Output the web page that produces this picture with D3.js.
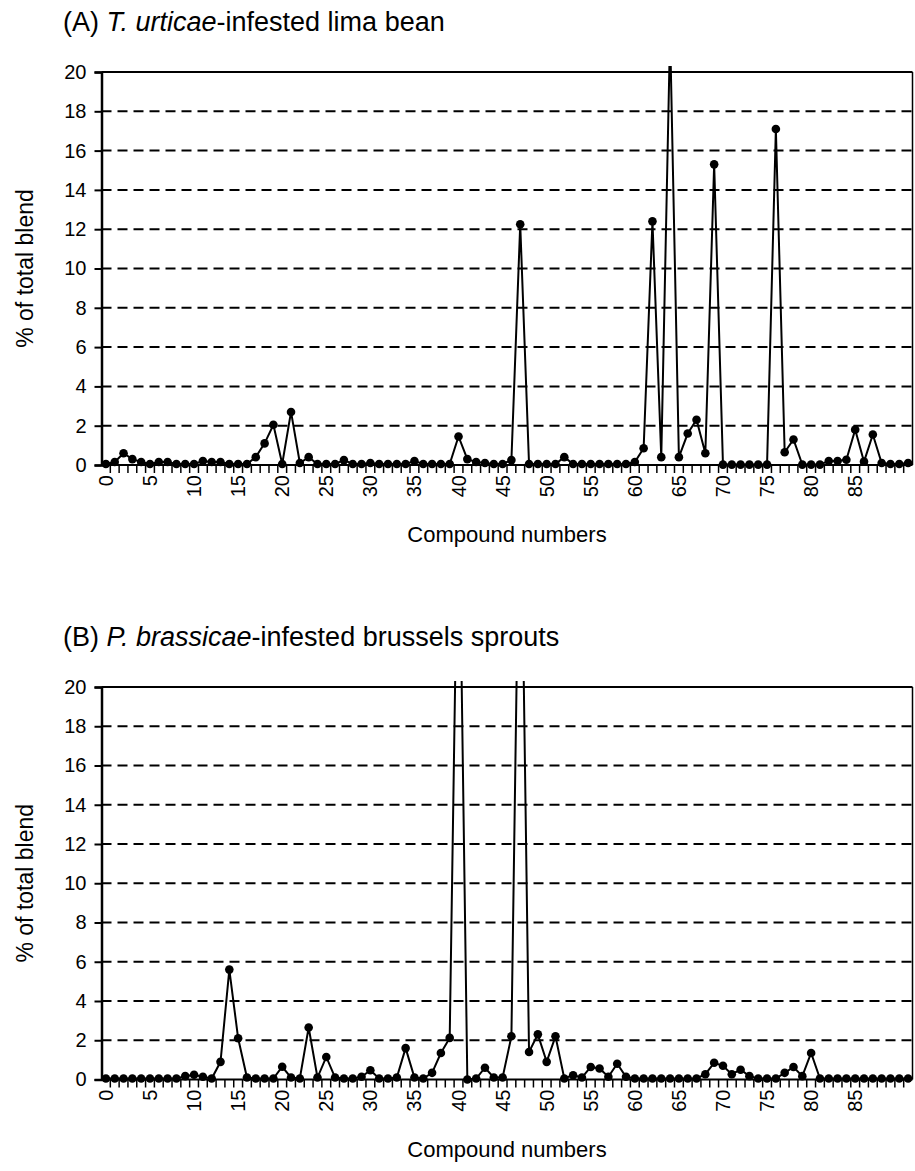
<!DOCTYPE html>
<html lang="en">
<head>
<meta charset="UTF-8">
<title>Volatile blends</title>
<script src="https://d3js.org/d3.v7.min.js"></script>
<style>
    body { margin: 0; padding: 0; background: #fff; }
    svg { display: block; }
    text { font-family: "Liberation Sans", Arial, sans-serif; fill: #000; }
</style>
</head>
<body>
<svg id="chart"></svg>
<script>
    // y axis ticks and x tick labels
    const yTicks = [0, 2, 4, 6, 8, 10, 12, 14, 16, 18, 20];
    const xTickLabels = [0, 5, 10, 15, 20, 25, 30, 35, 40, 45, 50, 55, 60, 65, 70, 75, 80, 85];

    // (A) T. urticae-infested lima bean, % of total blend per compound (0..91)
    const blendA = [
        0.05, 0.15, 0.6, 0.3, 0.15, 0.05, 0.15, 0.15, 0.05, 0.05,
        0.05, 0.2, 0.15, 0.15, 0.05, 0.05, 0.05, 0.4, 1.1, 2.05,
        0.05, 2.7, 0.1, 0.4, 0.05, 0.05, 0.05, 0.25, 0.05, 0.05,
        0.1, 0.05, 0.05, 0.05, 0.05, 0.2, 0.05, 0.05, 0.05, 0.05,
        1.45, 0.3, 0.15, 0.1, 0.05, 0.05, 0.25, 12.25, 0.05, 0.05,
        0.05, 0.05, 0.4, 0.05, 0.05, 0.05, 0.05, 0.05, 0.05, 0.05,
        0.15, 0.85, 12.4, 0.4, 22, 0.4, 1.6, 2.3, 0.6, 15.3,
        0.02, 0.02, 0.02, 0.02, 0.02, 0.02, 17.1, 0.65, 1.3, 0.02,
        0.02, 0.02, 0.2, 0.2, 0.27, 1.8, 0.17, 1.55, 0.1, 0.05,
        0.05, 0.1
    ];

    // (B) P. brassicae-infested brussels sprouts
    const blendB = [
        0.05, 0.05, 0.05, 0.05, 0.05, 0.05, 0.05, 0.05, 0.05, 0.17,
        0.24, 0.14, 0.05, 0.9, 5.6, 2.1, 0.1, 0.05, 0.05, 0.05,
        0.65, 0.1, 0.05, 2.65, 0.1, 1.15, 0.1, 0.05, 0.05, 0.14,
        0.47, 0.05, 0.05, 0.1, 1.6, 0.1, 0.05, 0.34, 1.35, 2.12,
        31.5, 0.0, 0.05, 0.6, 0.1, 0.1, 2.2, 33, 1.4, 2.3,
        0.9, 2.2, 0.05, 0.22, 0.1, 0.64, 0.56, 0.14, 0.8, 0.14,
        0.05, 0.05, 0.05, 0.05, 0.05, 0.05, 0.05, 0.05, 0.27, 0.85,
        0.7, 0.27, 0.5, 0.17, 0.05, 0.05, 0.05, 0.34, 0.64, 0.17,
        1.35, 0.05, 0.05, 0.05, 0.05, 0.05, 0.05, 0.05, 0.05, 0.05,
        0.05, 0.05
    ];

    const width = 915;
    const height = 1171;
    const left = 101.5;
    const right = 912.5;

    const svg = d3.select("#chart")
        .attr("width", width)
        .attr("height", height);

    const panels = [
        { id: "a", label: "(A) ", species: "T. urticae", rest: "-infested lima bean",
          values: blendA, top: 72, bottom: 465, titleY: 31, xTitleY: 542 },
        { id: "b", label: "(B) ", species: "P. brassicae", rest: "-infested brussels sprouts",
          values: blendB, top: 687, bottom: 1079.5, titleY: 646, xTitleY: 1157 }
    ];

    panels.forEach(p => drawPanel(p));

    function drawPanel(p) {
        const g = svg.append("g");
        const compounds = p.values.map((v, i) => i);

        const xb = d3.scaleBand().domain(compounds).range([left, right]);
        const x = i => xb(i) + xb.bandwidth() / 2;
        const y = d3.scaleLinear().domain([0, 20]).range([p.bottom, p.top]);

        // panel title
        const title = g.append("text")
            .attr("x", 63)
            .attr("y", p.titleY)
            .attr("font-size", 27);
        title.append("tspan").text(p.label);
        title.append("tspan").attr("font-style", "italic").text(p.species);
        title.append("tspan").text(p.rest);

        // dashed gridlines
        g.selectAll(".grid")
            .data(yTicks.filter(v => v > 0 && v < 20))
            .enter().append("line")
            .attr("x1", left).attr("x2", right)
            .attr("y1", d => y(d)).attr("y2", d => y(d))
            .attr("stroke", "#000")
            .attr("stroke-width", 2)
            .attr("stroke-dasharray", "10,6");

        // frame: top and right border
        g.append("line")
            .attr("x1", left).attr("x2", right)
            .attr("y1", p.top).attr("y2", p.top)
            .attr("stroke", "#000").attr("stroke-width", 2);
        g.append("line")
            .attr("x1", right).attr("x2", right)
            .attr("y1", p.top).attr("y2", p.bottom)
            .attr("stroke", "#000").attr("stroke-width", 1.5);

        // y axis
        const yAxis = g.append("g")
            .attr("transform", `translate(${left},0)`)
            .call(d3.axisLeft(y).tickValues(yTicks).tickSize(7).tickPadding(8));
        yAxis.select(".domain").attr("stroke-width", 2.5);
        yAxis.selectAll(".tick line").attr("stroke-width", 2);
        yAxis.selectAll(".tick text")
            .attr("font-size", 20)
            .attr("font-family", "Liberation Sans, Arial, sans-serif");

        // x axis with ticks between categories
        g.append("line")
            .attr("x1", left).attr("x2", right)
            .attr("y1", p.bottom).attr("y2", p.bottom)
            .attr("stroke", "#000").attr("stroke-width", 2);
        g.selectAll(".xtick")
            .data(compounds.slice(1))
            .enter().append("line")
            .attr("x1", d => xb(d)).attr("x2", d => xb(d))
            .attr("y1", p.bottom).attr("y2", p.bottom + 8)
            .attr("stroke", "#000").attr("stroke-width", 1.5);

        // rotated category labels, reading bottom to top
        g.selectAll(".xlabel")
            .data(xTickLabels)
            .enter().append("text")
            .attr("transform", d => `translate(${x(d)},${p.bottom + 10}) rotate(-90)`)
            .attr("dy", "0.35em")
            .attr("text-anchor", "end")
            .attr("font-size", 20)
            .text(d => d);

        // axis titles
        g.append("text")
            .attr("x", (left + right) / 2)
            .attr("y", p.xTitleY)
            .attr("text-anchor", "middle")
            .attr("font-size", 22)
            .text("Compound numbers");

        const midY = (p.top + p.bottom) / 2;
        g.append("text")
            .attr("transform", `translate(33,${midY}) rotate(-90)`)
            .attr("text-anchor", "middle")
            .attr("font-size", 23)
            .text("% of total blend");

        // data line clipped just above the plot area
        const clipId = "clip-" + p.id;
        g.append("clipPath").attr("id", clipId)
            .append("rect")
            .attr("x", left - 6).attr("y", p.top - 6)
            .attr("width", right - left + 12)
            .attr("height", p.bottom - p.top + 12);

        const series = g.append("g").attr("clip-path", `url(#${clipId})`);
        const line = d3.line()
            .x((d, i) => x(i))
            .y(d => y(d));

        series.append("path")
            .datum(p.values)
            .attr("d", line)
            .attr("fill", "none")
            .attr("stroke", "#000")
            .attr("stroke-width", 2)
            .attr("stroke-linejoin", "miter");

        series.selectAll(".dot")
            .data(p.values.map((v, i) => ({ i: i, v: v })).filter(d => d.v <= 20))
            .enter().append("circle")
            .attr("cx", d => x(d.i))
            .attr("cy", d => y(d.v))
            .attr("r", 4.3)
            .attr("fill", "#000");
    }
</script>
</body>
</html>
